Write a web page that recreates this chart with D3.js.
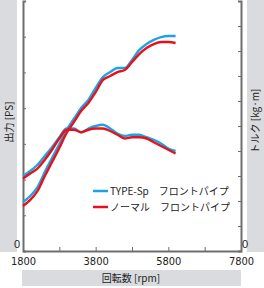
<!DOCTYPE html>
<html lang="ja">
<head>
  <meta charset="UTF-8">
  <title>出力・トルク</title>
  <script src="https://d3js.org/d3.v7.min.js"></script>
  <style>
    body { margin: 0; background: #fff; font-family: "Noto Sans CJK JP", "Liberation Sans", sans-serif; }
    svg text { fill: #222; }
  </style>
</head>
<body>
  <svg id="chart" width="264" height="288"></svg>

  <script>
    // rpm sampled every 200
    const rpm = [1800, 2000, 2200, 2400, 2600, 2800, 3000, 3200, 3400, 3600, 3800,
                 4000, 4200, 4400, 4600, 4800, 5000, 5200, 5400, 5600, 5800, 6000];

    // power [PS]
    const powerSp = [27.4, 30.8, 35.8, 44.2, 52.1, 59.9, 67.8, 73.9, 80.1, 84.6, 91.3,
                     97.4, 100.2, 102.5, 102.5, 107.0, 112.6, 115.9, 118.2, 119.8, 120.4, 120.4];
    const powerNormal = [25.2, 28.6, 33.6, 42.0, 49.8, 57.7, 66.1, 72.2, 78.4, 82.9, 89.0,
                         95.8, 98.0, 100.2, 101.4, 105.8, 110.3, 113.7, 115.9, 117.0, 117.0, 116.5];

    // torque [kg·m]
    const torqueSp = [6.0, 6.4, 6.9, 7.6, 8.3, 9.1, 9.8, 9.8, 9.5, 9.8, 10.0,
                      10.1, 9.8, 9.4, 9.2, 9.3, 9.3, 9.1, 8.9, 8.6, 8.2, 8.0];
    const torqueNormal = [5.8, 6.2, 6.6, 7.3, 8.1, 9.0, 9.7, 9.7, 9.5, 9.7, 9.8,
                          9.8, 9.6, 9.3, 9.0, 9.1, 9.1, 9.0, 8.7, 8.4, 8.1, 7.8];

    const xTicks = [1800, 2800, 3800, 4800, 5800, 6800, 7800];
    const xLabels = [1800, 3800, 5800, 7800];
    const powerTicks = [0, 20, 40, 60, 80, 100, 120, 140];
    const torqueTicks = [0, 2, 4, 6, 8, 10, 12, 14, 16, 18, 20];

    const seriesNames = ["TYPE-Sp\u3000フロントパイプ", "ノーマル\u3000フロントパイプ"];
    const seriesColors = ["#1ca3e3", "#e8101c"];

    const svg = d3.select("#chart");
    const plotLeft = 23, plotRight = 241, plotTop = 1, plotBottom = 251;

    const x = d3.scaleLinear().domain([1800, 7800]).range([plotLeft, plotRight]);
    const yPow = d3.scaleLinear().domain([0, 140]).range([plotBottom, plotTop]);
    const yTrq = d3.scaleLinear().domain([0, 20]).range([plotBottom, plotTop]);

    // gray title strips
    svg.append("rect").attr("x", 0).attr("y", 0).attr("width", 17).attr("height", 252).attr("fill", "#d9dbde");
    svg.append("rect").attr("x", 247).attr("y", 0).attr("width", 17).attr("height", 252).attr("fill", "#d9dbde");
    svg.append("rect").attr("x", 22).attr("y", 270).attr("width", 219).attr("height", 16).attr("fill", "#d9dbde");

    svg.append("text")
      .attr("transform", "translate(9,122) rotate(-90)")
      .attr("text-anchor", "middle").attr("dy", "0.35em")
      .style("font-size", "10px")
      .text("出力 [PS]");

    svg.append("text")
      .attr("transform", "translate(255,121) rotate(-90)")
      .attr("text-anchor", "middle").attr("dy", "0.35em")
      .style("font-size", "10px")
      .text("トルク [kg·m]");

    svg.append("text")
      .attr("x", 131).attr("y", 278)
      .attr("text-anchor", "middle").attr("dy", "0.35em")
      .style("font-size", "10px")
      .text("回転数 [rpm]");

    // axes
    const axisColor = "#6e6e6e";

    const gLeft = svg.append("g").attr("transform", `translate(${plotLeft},0)`)
      .call(d3.axisRight(yPow).tickValues(powerTicks).tickSize(3).tickFormat(""));
    const gRight = svg.append("g").attr("transform", `translate(${plotRight},0)`)
      .call(d3.axisLeft(yTrq).tickValues(torqueTicks).tickSize(3).tickFormat(""));
    const gBottom = svg.append("g").attr("transform", `translate(0,${plotBottom})`)
      .call(d3.axisBottom(x).tickValues(xTicks).tickSizeInner(-4).tickSizeOuter(0).tickPadding(6)
        .tickFormat(d => xLabels.includes(d) ? d : ""));

    [gLeft, gRight, gBottom].forEach(g => {
      g.select(".domain").attr("stroke", axisColor).attr("stroke-width", 2);
      g.selectAll(".tick line").attr("stroke", axisColor).attr("stroke-width", 1);
      g.selectAll(".tick text").attr("fill", "#222")
        .style("font-family", "'Liberation Sans Narrow', 'DejaVu Sans Condensed', sans-serif")
        .style("font-size", "11px");
    });

    svg.append("text")
      .attr("x", plotLeft - 6).attr("y", yPow(0) - 7)
      .attr("text-anchor", "middle").attr("dy", "0.35em")
      .style("font-family", "'Liberation Sans Narrow', sans-serif").style("font-size", "11px")
      .text("0");
    svg.append("text")
      .attr("x", plotRight + 4).attr("y", yTrq(0) - 7)
      .attr("text-anchor", "middle").attr("dy", "0.35em")
      .style("font-family", "'Liberation Sans Narrow', sans-serif").style("font-size", "11px")
      .text("0");

    // curves
    const powLine = d3.line().x((d, i) => x(rpm[i])).y(d => yPow(d)).curve(d3.curveMonotoneX);
    const trqLine = d3.line().x((d, i) => x(rpm[i])).y(d => yTrq(d)).curve(d3.curveMonotoneX);

    const plot = svg.append("g");
    [[powerSp, torqueSp], [powerNormal, torqueNormal]].forEach(([p, t], k) => {
      plot.append("path").datum(p).attr("d", powLine)
        .attr("fill", "none").attr("stroke", seriesColors[k]).attr("stroke-width", 2.4);
      plot.append("path").datum(t).attr("d", trqLine)
        .attr("fill", "none").attr("stroke", seriesColors[k]).attr("stroke-width", 2.4);
    });

    // legend
    const legend = svg.append("g");
    seriesNames.forEach((name, i) => {
      const ly = 191 + i * 16;
      legend.append("line")
        .attr("x1", 93).attr("x2", 108).attr("y1", ly).attr("y2", ly)
        .attr("stroke", seriesColors[i]).attr("stroke-width", 2.5);
      legend.append("text")
        .attr("x", 110).attr("y", ly).attr("dy", "0.35em")
        .style("font-size", "10px")
        .text(name);
    });
  </script>
</body>
</html>
